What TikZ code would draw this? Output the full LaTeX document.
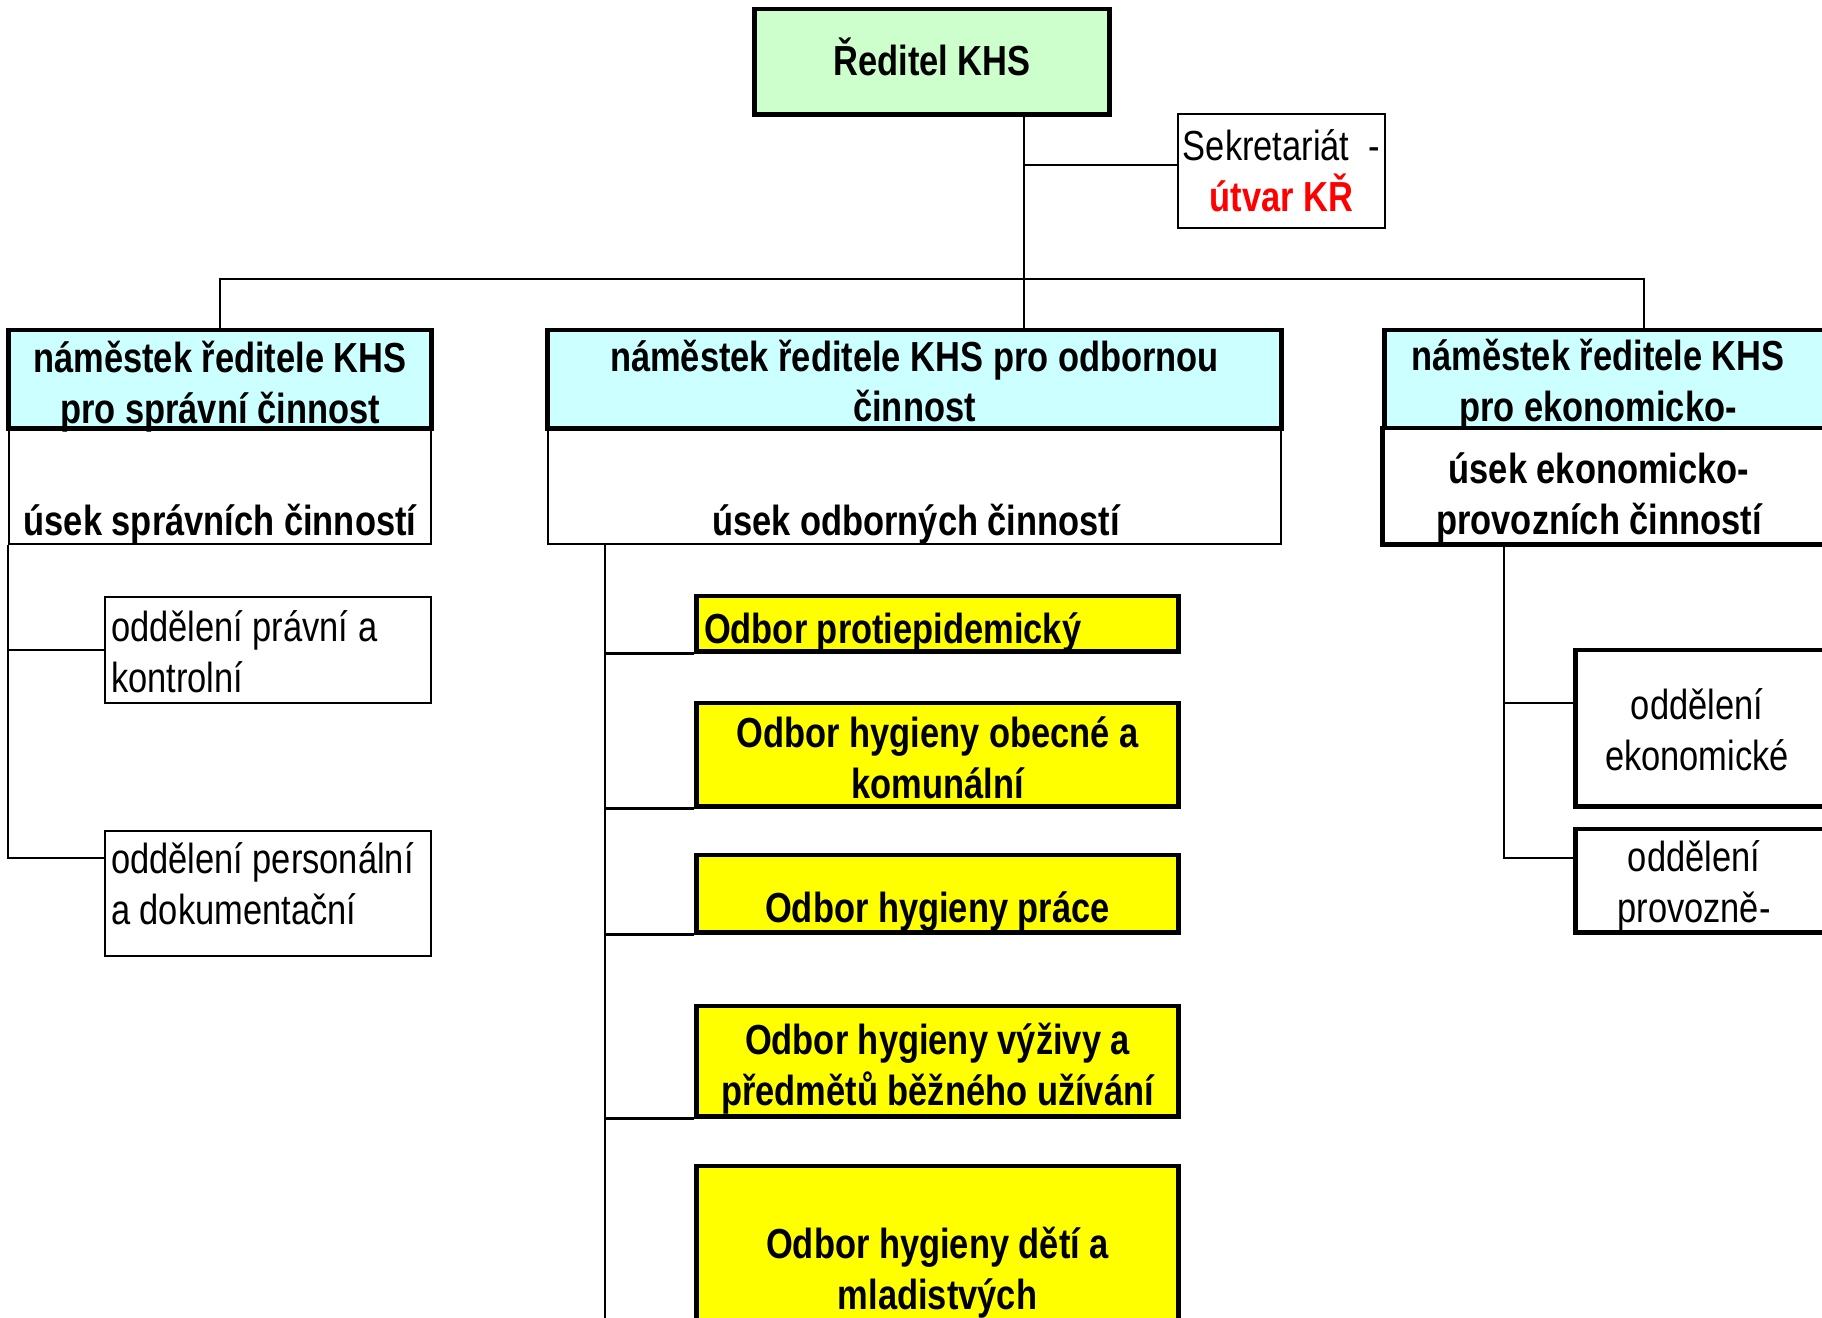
\documentclass[tikz,border=0pt]{standalone}
\usepackage{fontspec}
\setmainfont[FakeStretch=0.82]{Liberation Sans}
\definecolor{zelena}{RGB}{204,255,204}
\definecolor{azur}{RGB}{204,255,255}
\definecolor{zluta}{RGB}{255,255,0}
\definecolor{cervena}{RGB}{255,0,0}

\begin{document}
\begin{tikzpicture}[x=0.01cm, y=-0.01cm, line width=0.6pt,
	every node/.style={inner sep=0pt, align=center, font=\fontsize{11.95}{14.5}\selectfont},
	ramec/.style={draw, fill=white, line width=0.6pt},
	silny/.style={draw, fill=white, line width=1.4pt},
	vedeni/.style={silny, fill=azur},
	odbor/.style={silny, fill=zluta},
	popis/.style={font=\fontsize{11.95}{14.5}\selectfont\bfseries}]
	\useasboundingbox (0,0) rectangle (1822,1317);
	\clip (0,0) rectangle (1822,1317);
	
	% reditel a sekretariat
	\node[silny, fill=zelena, minimum width=3.54cm, minimum height=1.05cm] (red) at (932,61.5) {};
	\node[popis] (tred) at (932,57) {Ředitel KHS};
	\node[ramec, minimum width=2.07cm, minimum height=1.14cm] (sek) at (1281.5,171) {Sekretariát~ -\\\textbf{\color{cervena}útvar KŘ}};
	\coordinate (osa) at (1024,279);
	
	% useky
	\node[ramec, minimum width=4.22cm, minimum height=1.16cm] (usek1) at (220,486) {};
	\node[ramec, minimum width=7.33cm, minimum height=1.16cm] (usek2) at (914.5,486) {};
	\node[vedeni, minimum width=4.22cm, minimum height=0.98cm] (nam1) at (220,379) {};
	\node[vedeni, minimum width=7.33cm, minimum height=0.98cm] (nam2) at (914.5,379) {};
	\node[vedeni, minimum width=5.18cm, minimum height=0.98cm] (nam3) at (1644,379) {};
	\node[popis] (tnam1) at (220,387) {náměstek ředitele KHS\\pro správní činnost};
	\node[popis] (tnam2) at (914.5,381) {náměstek ředitele KHS pro odbornou\\činnost};
	\node[popis] (tnam3) at (1598,385) {náměstek ředitele KHS\\pro ekonomicko-};
	\node[silny, minimum width=5.17cm, minimum height=1.16cm] (ue) at (1641.5,486) {};
	\node[popis] (tusek1) at (220,524) {úsek správních činností};
	\node[popis] (tusek2) at (916,524) {úsek odborných činností};
	\node[popis] (tue) at (1599,498) {úsek ekonomicko-\\provozních činností};
	
	\draw (red.south -| osa) -- (nam2.north -| osa);
	\draw (sek.west |- 0,165) -- (osa |- 0,165);
	\draw (nam1.north) |- (osa) -| (nam3.north);
	
	% spravni cinnosti
	\node[ramec, minimum width=3.26cm, minimum height=1.06cm] (opk) at (268,650) {};
	\node[ramec, minimum width=3.26cm, minimum height=1.25cm] (opd) at (268,893.5) {};
	\node[anchor=west, align=left] (topk) at (110,651.5) {oddělení právní a\\kontrolní};
	\node[anchor=west, align=left] (topd) at (110,883.5) {oddělení personální\\a dokumentační};
	\draw (usek1.south west) |- (opk.west);
	\draw (usek1.south west) |- (opd.west |- 0,858);
	
	% odborne cinnosti
	\node[odbor, minimum width=4.81cm, minimum height=0.55cm] (ob1) at (937.5,623.5) {};
	\node[odbor, minimum width=4.81cm, minimum height=1.03cm] (ob2) at (937.5,754.5) {};
	\node[odbor, minimum width=4.81cm, minimum height=0.77cm] (ob3) at (937.5,893.5) {};
	\node[odbor, minimum width=4.81cm, minimum height=1.10cm] (ob4) at (937.5,1061) {};
	\node[odbor, minimum width=4.81cm, minimum height=2.34cm] (ob5) at (937.5,1283) {};
	\node[popis, anchor=west] (tob1) at (703,632) {Odbor protiepidemický};
	\node[popis] (tob2) at (937.5,758) {Odbor hygieny obecné a\\komunální};
	\node[popis] (tob3) at (937.5,912) {Odbor hygieny práce};
	\node[popis] (tob4) at (937.5,1069) {Odbor hygieny výživy a\\předmětů běžného užívání};
	\node[popis] (tob5) at (937.5,1273) {Odbor hygieny dětí a\\mladistvých};
	\coordinate (os2) at (usek2.south -| 605,0);
	\draw (os2) -- (605,1330);
	\foreach \o in {ob1,ob2,ob3,ob4}
		\draw (\o.south west) -- (\o.south west -| os2);
	
	% ekonomicko-provozni cinnosti
	\node[silny, minimum width=3.24cm, minimum height=1.56cm] (oe) at (1738,728) {};
	\node[silny, minimum width=3.24cm, minimum height=1.03cm] (op) at (1738,880.5) {};
	\node (toe) at (1697,729.5) {oddělení\\ekonomické};
	\node (top) at (1694,886) {oddělení\\provozně-};
	\coordinate (os3) at (ue.south -| 1504,0);
	\draw (os3) |- (op.west |- 0,858);
	\draw (os3 |- 0,703) -- (oe.west |- 0,703);
	
\end{tikzpicture}
\end{document}
